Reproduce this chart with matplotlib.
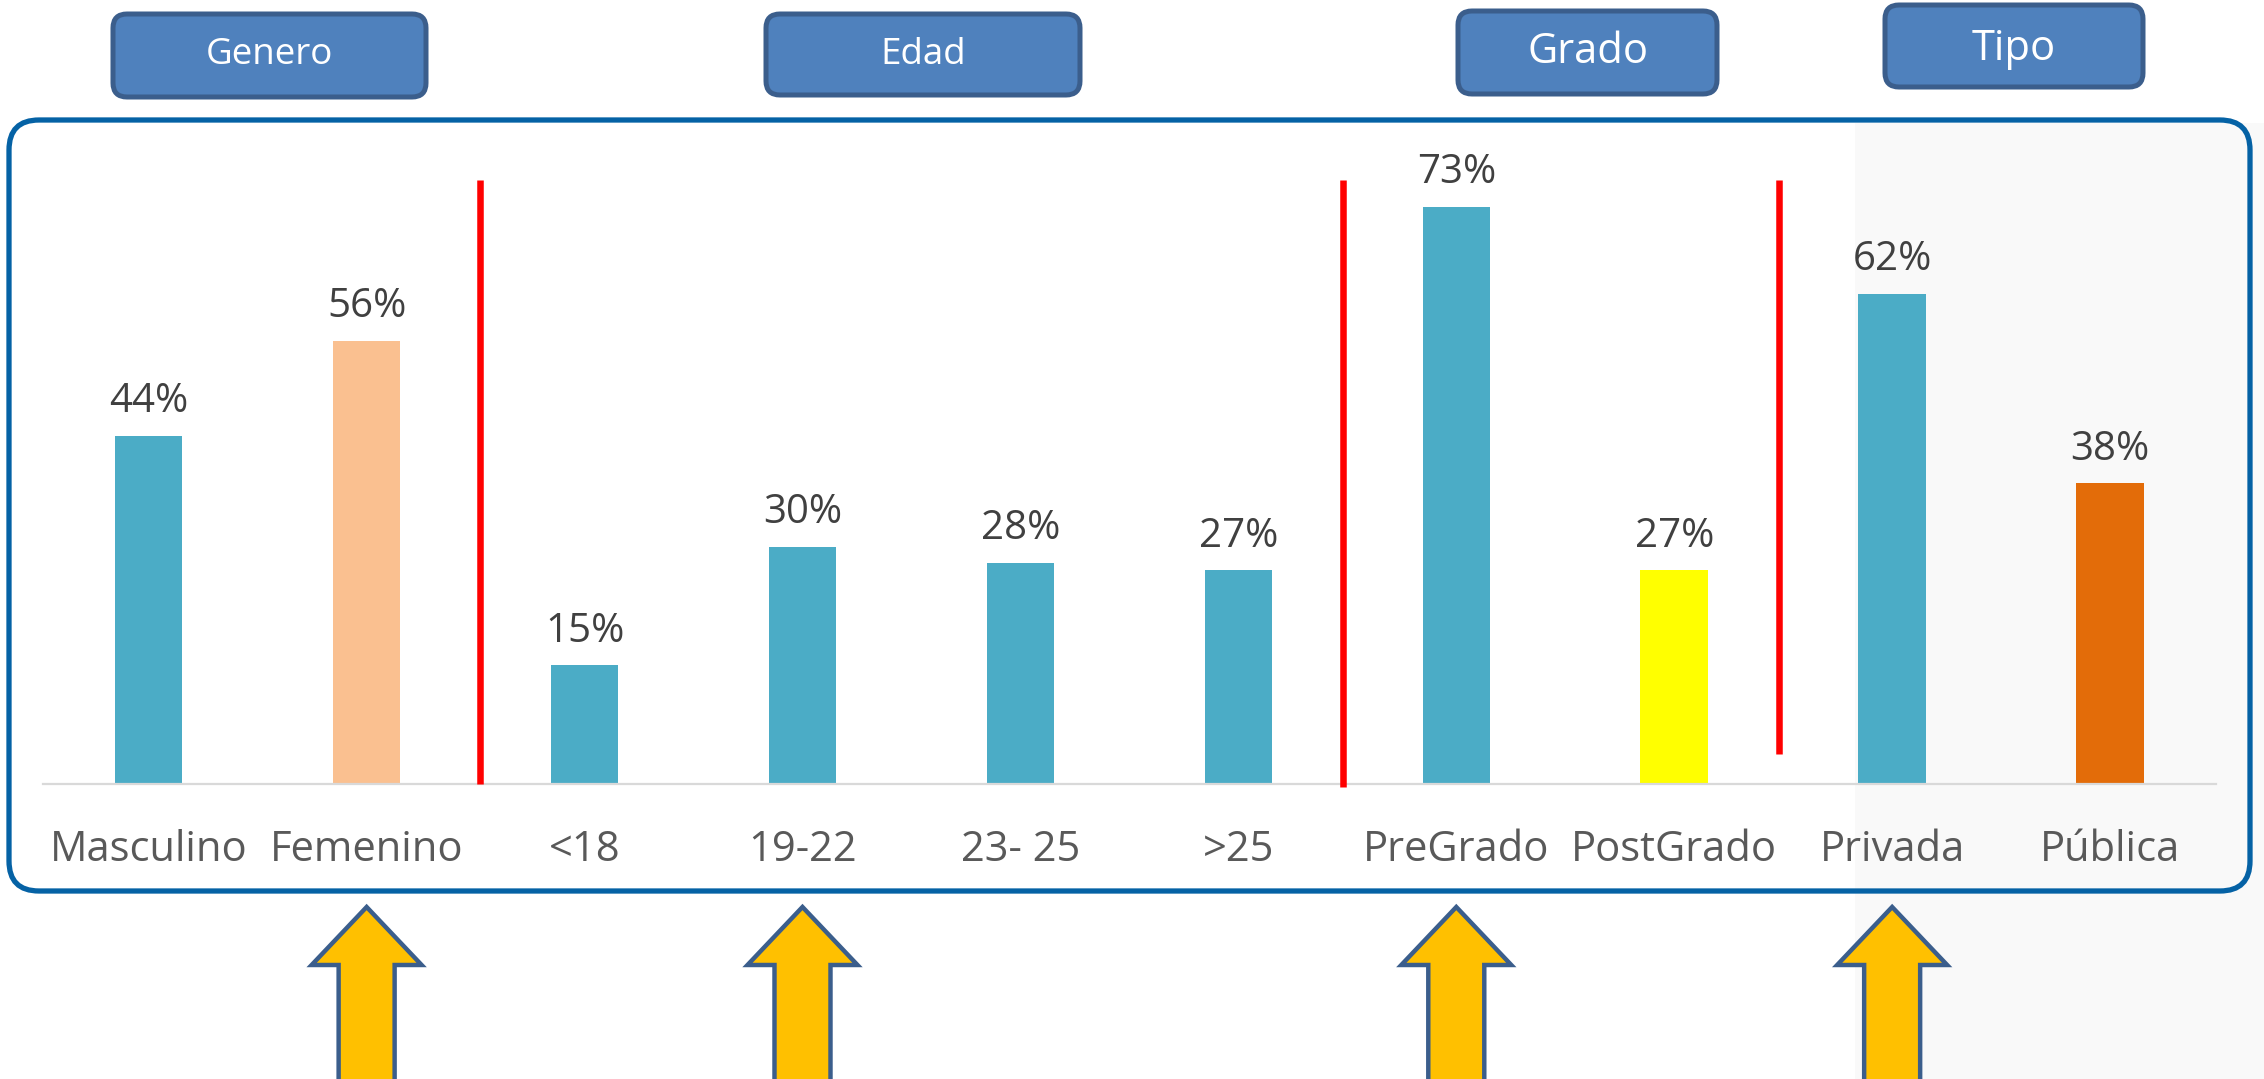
import matplotlib
matplotlib.use("Agg")
import matplotlib.pyplot as plt
from matplotlib.patches import FancyBboxPatch, Polygon, Rectangle

# ---- data ----
categories = ["Masculino", "Femenino", "<18", "19-22", "23- 25", ">25",
              "PreGrado", "PostGrado", "Privada", "Pública"]
values = [44, 56, 15, 30, 28, 27, 73, 27, 62, 38]
bar_colors = ["#4BACC6", "#FAC090", "#4BACC6", "#4BACC6", "#4BACC6",
              "#4BACC6", "#4BACC6", "#FFFF00", "#4BACC6", "#E36C09"]
groups = ["Genero", "Edad", "Grado", "Tipo"]
separators = [1.52, 5.48, 7.48]
separator_bottoms = [0.0, -0.4, 3.8]
arrow_under = [1, 3, 6, 8]

W, H = 2264, 1079
FONT = "Open Sans"
plt.rcParams['font.family'] = [FONT, 'DejaVu Sans']

fig = plt.figure(figsize=(W / 100, H / 100), dpi=100)
fig.patch.set_facecolor("white")

# background / decoration axes in pixel coordinates (y downwards)
bg = fig.add_axes([0, 0, 1, 1], zorder=0)
bg.set_xlim(0, W)
bg.set_ylim(H, 0)
bg.axis("off")

# faint watermark area
bg.add_patch(Rectangle((1855, 123), W - 1855, H - 123, facecolor="#F9F9F9",
                       edgecolor="none", zorder=0))

# main frame
bg.add_patch(FancyBboxPatch((9, 120), 2241, 771,
                            boxstyle="round,pad=0,rounding_size=30",
                            facecolor="none", edgecolor="#0562A5",
                            linewidth=3.8, zorder=2))

# group header boxes
header_boxes = [(113, 14, 313, 83, 55, 26.5),
                (766, 14, 314, 81, 55, 26.5),
                (1458, 11, 259, 83, 52, 30),
                (1885, 5, 258, 82, 49, 30)]
for name, (x0, y0, w, h, ty, fs) in zip(groups, header_boxes):
    bg.add_patch(FancyBboxPatch((x0, y0), w, h,
                                boxstyle="round,pad=0,rounding_size=14",
                                facecolor="#4F81BD", edgecolor="#3B5E8C",
                                linewidth=3.6, zorder=3))
    bg.text(x0 + w / 2, ty, name, color="white", fontsize=fs,
            ha="center", va="center", zorder=4)

# main chart axes
left_px, right_px, base_px, top_px = 43, 2216, 784, 120
ax = fig.add_axes([left_px / W, (H - base_px) / H,
                   (right_px - left_px) / W, (base_px - top_px) / H], zorder=1)
ax.patch.set_alpha(0)
x = list(range(len(categories)))
ax.bar(x, values, width=0.31, color=bar_colors, zorder=2)
ax.set_xlim(-0.485, 9.486)
ax.set_ylim(0, (base_px - top_px) / 7.91)
for s in ["top", "right", "left"]:
    ax.spines[s].set_visible(False)
ax.spines["bottom"].set_color("#D9D9D9")
ax.spines["bottom"].set_linewidth(1.6)
ax.set_yticks([])
ax.set_xticks(x)
ax.set_xticklabels(categories, fontsize=30, color="#595959", va="baseline")
ax.tick_params(axis="x", length=0, pad=55.5)

for xi, v in zip(x, values):
    ax.annotate(f"{v}%", (xi, v), xytext=(0, 17), textcoords="offset points",
                ha="center", va="baseline", fontsize=29, color="#404040")

for sx, sb in zip(separators, separator_bottoms):
    ax.plot([sx, sx], [sb, 76.3], color="#FF0000", linewidth=4.7,
            solid_capstyle="butt", clip_on=False, zorder=3)

# arrows under selected categories
fig.canvas.draw()
for idx in arrow_under:
    cx = ax.transData.transform((idx, 0))[0]
    tip, head_len, head_hw, shaft_hw = 907, 58, 55, 28
    pts = [(cx, tip), (cx + head_hw, tip + head_len), (cx + shaft_hw, tip + head_len),
           (cx + shaft_hw, H + 20), (cx - shaft_hw, H + 20),
           (cx - shaft_hw, tip + head_len), (cx - head_hw, tip + head_len)]
    bg.add_patch(Polygon(pts, closed=True, facecolor="#FFC000",
                         edgecolor="#3B5E8C", linewidth=3.2, zorder=3,
                         joinstyle="miter"))

fig.savefig("out.png", dpi=100)
